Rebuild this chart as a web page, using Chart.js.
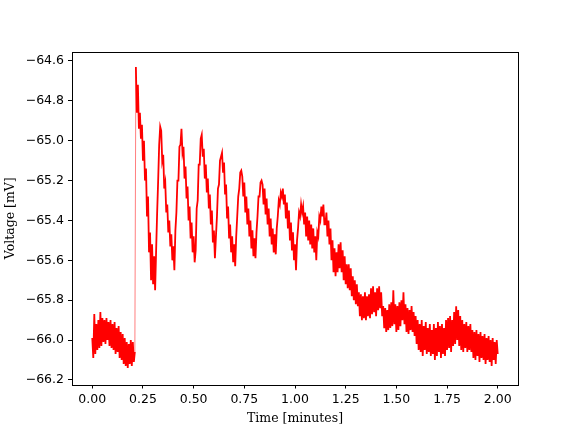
<!DOCTYPE html>
<html><head><meta charset="utf-8">
<script src="https://cdn.jsdelivr.net/npm/chart.js@4/dist/chart.umd.min.js"></script>
<style>html,body{margin:0;padding:0;background:#fff;}canvas{display:block;}</style>
</head><body>
<canvas id="c" width="576" height="432"></canvas>
<script>
// Tick labels
const xTickValues = [0, 0.25, 0.5, 0.75, 1.0, 1.25, 1.5, 1.75, 2.0];
const yTickValues = [-66.2, -66.0, -65.8, -65.6, -65.4, -65.2, -65.0, -64.8, -64.6];

// Sampling of the recording (minutes)
const sampleStart = 0;
const sampleStep = 0.005;

// Membrane voltage [mV], one value per sample
const voltage = [
 -65.99,-66.09,-65.87,-66.07,-65.92,-66.05,-65.90,-66.04,-65.86,-66.03,
 -65.89,-66.01,-65.90,-66.02,-65.89,-66.00,-65.91,-66.03,-65.90,-66.04,
 -65.92,-66.05,-65.91,-66.07,-65.94,-66.06,-65.93,-66.09,-65.96,-66.10,
 -65.97,-66.12,-65.99,-66.13,-66.01,-66.14,-66.02,-66.12,-66.00,-66.13,
 -66.01,-66.11,-66.06,-64.63,-64.86,-64.72,-64.94,-64.86,-64.99,-64.92,
 -65.10,-65.00,-65.20,-65.14,-65.38,-65.28,-65.56,-65.46,-65.70,-65.52,
 -65.72,-65.58,-65.75,-65.55,-65.36,-65.20,-65.02,-64.93,-64.95,-65.10,
 -65.07,-65.24,-65.21,-65.36,-65.32,-65.46,-65.40,-65.53,-65.47,-65.60,
 -65.53,-65.65,-65.45,-65.36,-65.20,-65.20,-65.03,-65.02,-64.94,-65.06,
 -65.03,-65.19,-65.13,-65.29,-65.23,-65.40,-65.33,-65.49,-65.41,-65.56,
 -65.48,-65.61,-65.55,-65.34,-65.30,-65.12,-65.12,-64.99,-64.97,-65.08,
 -65.04,-65.19,-65.12,-65.26,-65.19,-65.34,-65.27,-65.42,-65.35,-65.51,
 -65.45,-65.59,-65.48,-65.38,-65.24,-65.22,-65.10,-65.08,-65.06,-65.16,
 -65.11,-65.27,-65.22,-65.39,-65.33,-65.49,-65.42,-65.56,-65.48,-65.61,
 -65.52,-65.63,-65.48,-65.38,-65.28,-65.24,-65.16,-65.15,-65.18,-65.28,
 -65.21,-65.36,-65.28,-65.42,-65.34,-65.48,-65.40,-65.54,-65.45,-65.58,
 -65.49,-65.59,-65.46,-65.38,-65.28,-65.28,-65.21,-65.20,-65.22,-65.32,
 -65.24,-65.37,-65.29,-65.42,-65.34,-65.48,-65.39,-65.52,-65.44,-65.56,
 -65.47,-65.57,-65.44,-65.38,-65.30,-65.32,-65.26,-65.28,-65.24,-65.32,
 -65.27,-65.39,-65.31,-65.44,-65.35,-65.50,-65.41,-65.55,-65.46,-65.60,
 -65.52,-65.65,-65.50,-65.44,-65.36,-65.38,-65.32,-65.36,-65.33,-65.42,
 -65.36,-65.48,-65.38,-65.50,-65.40,-65.52,-65.42,-65.54,-65.44,-65.56,
 -65.48,-65.60,-65.46,-65.48,-65.38,-65.40,-65.33,-65.38,-65.32,-65.42,
 -65.42,-65.36,-65.48,-65.40,-65.52,-65.44,-65.60,-65.50,-65.66,-65.54,
 -65.68,-65.56,-65.66,-65.52,-65.64,-65.51,-65.66,-65.55,-65.70,-65.58,
 -65.72,-65.62,-65.74,-65.62,-65.75,-65.64,-65.78,-65.68,-65.80,-65.70,
 -65.82,-65.72,-65.83,-65.76,-65.88,-65.77,-65.90,-65.78,-65.89,-65.76,
 -65.90,-65.78,-65.88,-65.77,-65.89,-65.74,-65.87,-65.73,-65.86,-65.76,
 -65.88,-65.74,-65.85,-65.73,-65.84,-65.76,-65.88,-65.83,-65.94,-65.84,
 -65.96,-65.85,-65.95,-65.82,-65.94,-65.81,-65.93,-65.75,-65.92,-65.82,
 -65.96,-65.83,-65.95,-65.81,-65.93,-65.80,-65.90,-65.76,-65.92,-65.82,
 -65.96,-65.84,-65.97,-65.85,-65.95,-65.83,-65.96,-65.86,-65.98,-65.88,
 -66.02,-65.90,-66.05,-65.92,-66.06,-65.90,-66.08,-65.93,-66.05,-65.91,
 -66.07,-65.94,-66.06,-65.92,-66.08,-65.95,-66.07,-65.92,-66.10,-65.94,
 -66.08,-65.91,-66.06,-65.93,-66.09,-65.92,-66.07,-65.94,-66.08,-65.90,
 -66.05,-65.89,-66.04,-65.88,-66.06,-65.90,-66.03,-65.86,-66.02,-65.83,
 -66.00,-65.85,-66.03,-65.88,-66.05,-65.90,-66.06,-65.92,-66.04,-65.91,
 -66.06,-65.93,-66.05,-65.92,-66.06,-65.95,-66.09,-65.96,-66.10,-65.95,
 -66.08,-65.97,-66.11,-65.96,-66.09,-65.98,-66.10,-65.97,-66.12,-65.99,
 -66.10,-65.98,-66.11,-66.00,-66.13,-65.99,-66.10,-66.01,-66.12,-66.00,
 -66.07
];

const time = voltage.map((_, i) => +(sampleStart + i * sampleStep).toFixed(3));
const points = time.map((t, i) => ({x: t, y: voltage[i]}));

const minus = s => s.replace('-', '\u2212');

const framePlugin = {
  id: 'frame',
  afterDraw(chart) {
    const {ctx, chartArea: a} = chart;
    ctx.save();
    ctx.strokeStyle = '#000';
    ctx.lineWidth = 1;
    ctx.strokeRect(Math.round(a.left) + 0.5, Math.round(a.top) + 0.5,
                   Math.round(a.right - a.left), Math.round(a.bottom - a.top));
    ctx.restore();
  }
};

// a jump of more than 1 mV between neighbouring samples is drawn as a thin stroke
const isJump = c => Math.abs(c.p1.parsed.y - c.p0.parsed.y) > 1;

new Chart(document.getElementById('c'), {
  type: 'line',
  data: {
    datasets: [{
      data: points,
      borderColor: '#ff0000',
      borderWidth: 1.8,
      pointRadius: 0,
      tension: 0,
      fill: false,
      segment: {
        borderWidth: c => isJump(c) ? 1 : undefined,
        borderColor: c => isJump(c) ? 'rgba(255,0,0,0.5)' : undefined
      }
    }]
  },
  options: {
    responsive: false,
    animation: false,
    devicePixelRatio: 1,
    layout: {padding: {left: 0, top: 52, right: 58, bottom: 0}},
    plugins: {legend: {display: false}, tooltip: {enabled: false}},
    scales: {
      x: {
        type: 'linear',
        min: -0.1, max: 2.1,
        afterBuildTicks: s => { s.ticks = xTickValues.map(v => ({value: v})); },
        afterFit: s => { s.height = 47.5; },
        grid: {drawOnChartArea: false, drawTicks: true, tickLength: 4, color: '#000', tickColor: '#000'},
        border: {display: false},
        ticks: {
          color: '#000', padding: 4, maxRotation: 0, autoSkip: false,
          font: {family: 'DejaVu Sans', size: 12.5},
          callback: v => minus(Number(v).toFixed(2))
        },
        title: {
          display: true, text: 'Time [minutes]', color: '#000',
          font: {family: 'DejaVu Serif', size: 12.5},
          padding: {top: 0, bottom: 6}
        }
      },
      y: {
        type: 'linear',
        min: -66.223, max: -64.555,
        afterBuildTicks: s => { s.ticks = yTickValues.map(v => ({value: v})); },
        afterFit: s => { s.width = 72; },
        grid: {drawOnChartArea: false, drawTicks: true, tickLength: 4, color: '#000', tickColor: '#000'},
        border: {display: false},
        ticks: {
          color: '#000', padding: 4, autoSkip: false,
          font: {family: 'DejaVu Sans', size: 12.5},
          callback: v => minus(Number(v).toFixed(1))
        },
        title: {
          display: true, text: 'Voltage [mV]', color: '#000',
          font: {family: 'DejaVu Serif', size: 12.5},
          padding: {top: 3, bottom: 0}
        }
      }
    }
  },
  plugins: [framePlugin]
});
</script>
</body></html>
